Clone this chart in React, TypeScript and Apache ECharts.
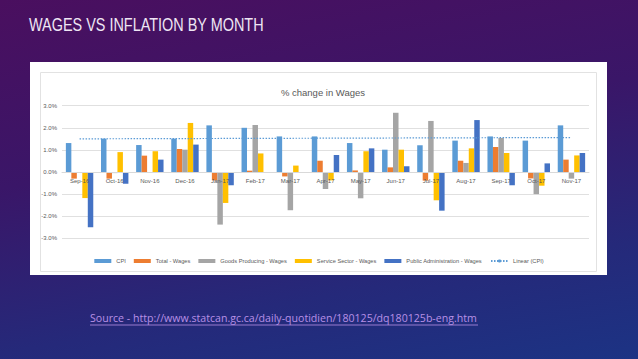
import React, { useEffect, useRef } from "react";
import * as echarts from "echarts";

const months = ["Sep-16","Oct-16","Nov-16","Dec-16","Jan-17","Feb-17","Mar-17","Apr-17","May-17","Jun-17","Jul-17","Aug-17","Sep-17","Oct-17","Nov-17"];
const cpi = [1.31,1.51,1.22,1.51,2.11,2.0,1.61,1.61,1.31,1.01,1.21,1.42,1.61,1.42,2.11];
const totalWages = [-0.3,-0.3,0.74,1.04,-0.38,0.06,-0.2,0.51,0.07,0.21,-0.39,0.51,1.13,-0.29,0.56];
const goodsWages = [-0.02,-0.05,-0.02,1.01,-2.38,2.13,-1.73,-0.77,-1.19,2.68,2.31,0.41,1.54,-1.0,-0.3];
const serviceWages = [-1.18,0.9,0.94,2.22,-1.4,0.84,0.29,-0.38,0.94,1.01,-1.28,1.07,0.86,-0.62,0.75];
const publicWages = [-2.5,-0.53,0.56,1.24,-0.6,0.0,-0.03,0.77,1.07,0.26,-1.75,2.35,-0.6,0.39,0.86];
const cpiTrend: [number, number][] = [[0, 1.5], [14, 1.56]];
const yTicks = { min: -3, max: 3, interval: 1 };

const FONT = "'Liberation Sans', Arial, sans-serif";

export default function App() {
  const ref = useRef<HTMLDivElement>(null);
  useEffect(() => {
    if (!ref.current) return;
    const chart = echarts.init(ref.current, null, { renderer: "svg" });
    const txt = "#595959";
    const gridTop = 105.7;
    const gridBottom = 120.7;
    const plotH = 359 - gridTop - gridBottom;
    const zeroOffset = (plotH * (0 - yTicks.min)) / (yTicks.max - yTicks.min);
    const bar = (name: string, data: number[], color: string) => ({
      name, type: "bar", data, itemStyle: { color },
      barGap: "0%", barCategoryGap: "22%",
    });
    chart.setOption({
      animation: false,
      backgroundColor: "transparent",
      title: {
        text: "% change in Wages", left: 318, top: 82, textAlign: "center",
        textStyle: { fontSize: 9.5, fontWeight: "normal", color: txt, fontFamily: FONT },
      },
      graphic: [
        { type: "rect", z: -10, shape: { x: 30, y: 62, width: 577, height: 213 }, style: { fill: "#ffffff" } },
        { type: "rect", z: -9, shape: { x: 40.5, y: 72.5, width: 556, height: 199 }, style: { fill: "none", stroke: "#E2E2E2", lineWidth: 1 } },
        { type: "text", z: 10, x: 29, y: 15, scaleX: 0.76, style: { text: "WAGES VS INFLATION BY MONTH", fill: "#efe6f4", font: `19px ${FONT}` } },
        { type: "text", z: 10, x: 90, y: 312, style: { text: "Source - http://www.statcan.gc.ca/daily-quotidien/180125/dq180125b-eng.htm", fill: "#b890e6", font: "10.6px 'Open Sans'" } },
        { type: "line", z: 10, shape: { x1: 90, y1: 325, x2: 478, y2: 325 }, style: { stroke: "#b890e6", lineWidth: 0.8 } },
      ],
      grid: { left: 62, right: 49, top: gridTop, bottom: gridBottom, containLabel: false },
      legend: {
        top: 253, left: "center", itemWidth: 17, itemHeight: 4, itemGap: 8,
        textStyle: { fontSize: 5.7, color: txt, fontFamily: FONT },
        data: [
          { name: "CPI", icon: "rect" },
          { name: "Total - Wages", icon: "rect" },
          { name: "Goods Producing - Wages", icon: "rect" },
          { name: "Service Sector - Wages", icon: "rect" },
          { name: "Public Administration - Wages", icon: "rect" },
          { name: "Linear (CPI)" },
        ],
      },
      xAxis: {
        type: "category", data: months,
        offset: -zeroOffset,
        axisLine: { onZero: false, lineStyle: { color: "#D9D9D9" } },
        axisTick: { show: false },
        axisLabel: { fontSize: 6, color: txt, margin: 6, fontFamily: FONT },
        z: 10,
      },
      yAxis: {
        type: "value", min: yTicks.min, max: yTicks.max, interval: yTicks.interval,
        axisLine: { show: false }, axisTick: { show: false },
        axisLabel: { fontSize: 6, color: txt, margin: 5, fontFamily: FONT, formatter: (v: number) => v.toFixed(1) + "%" },
        splitLine: { lineStyle: { color: "#E0E0E0" } },
      },
      series: [
        bar("CPI", cpi, "#5B9BD5"),
        bar("Total - Wages", totalWages, "#ED7D31"),
        bar("Goods Producing - Wages", goodsWages, "#A5A5A5"),
        bar("Service Sector - Wages", serviceWages, "#FFC000"),
        bar("Public Administration - Wages", publicWages, "#4472C4"),
        {
          name: "Linear (CPI)", type: "line", data: cpiTrend, symbol: "none", z: 5,
          lineStyle: { type: [1.5, 1.5], color: "#5B9BD5", width: 1.2 },
          itemStyle: { color: "#5B9BD5" },
        },
      ],
    });
    return () => chart.dispose();
  }, []);
  return (
    <div style={{ position: "fixed", left: 0, top: 0, width: 638, height: 359, background: "linear-gradient(170deg, #4a0f5f 0%, #3a1668 40%, #25297a 75%, #1c3384 100%)" }}>
      <div ref={ref} style={{ width: 638, height: 359 }} />
    </div>
  );
}
